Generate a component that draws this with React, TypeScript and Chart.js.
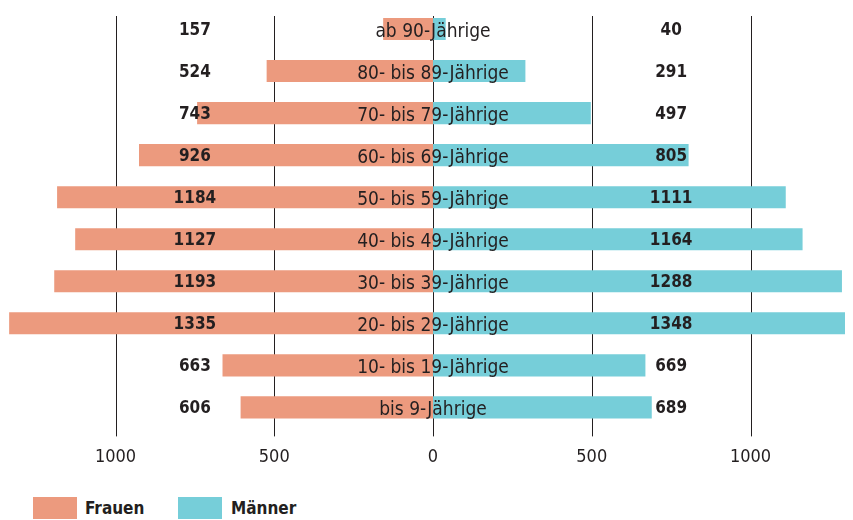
import React, { useEffect, useRef } from "react";
import { Chart, registerables } from "chart.js";

Chart.register(...registerables);

const CATEGORIES = [
  "ab 90-Jährige",
  "80- bis 89-Jährige",
  "70- bis 79-Jährige",
  "60- bis 69-Jährige",
  "50- bis 59-Jährige",
  "40- bis 49-Jährige",
  "30- bis 39-Jährige",
  "20- bis 29-Jährige",
  "10- bis 19-Jährige",
  "bis 9-Jährige",
];
const FRAUEN = [157, 524, 743, 926, 1184, 1127, 1193, 1335, 663, 606];
const MAENNER = [40, 291, 497, 805, 1111, 1164, 1288, 1348, 669, 689];
const TICKS = [-1000, -500, 0, 500, 1000];
const VALUE_LABEL_AT = 750;
const SERIES = ["Frauen", "Männer"];

const COLOR_F = "#EC9A7E";
const COLOR_M = "#76CED9";
const TEXT = "#231F20";
const NARROW = '"Liberation Sans Narrow", "DejaVu Sans Condensed", "Arial Narrow", sans-serif';

const overlay = {
  id: "pyramidOverlay",
  beforeDatasetsDraw(chart: any) {
    const { ctx, chartArea } = chart;
    const x = chart.scales.x;
    ctx.save();
    ctx.strokeStyle = TEXT;
    ctx.lineWidth = 1;
    for (const v of TICKS) {
      const px = Math.round(x.getPixelForValue(v)) + 0.5;
      ctx.beginPath();
      ctx.moveTo(px, chartArea.top + 8);
      ctx.lineTo(px, chartArea.bottom + 8);
      ctx.stroke();
    }
    ctx.restore();
  },
  afterDatasetsDraw(chart: any) {
    const { ctx } = chart;
    const x = chart.scales.x;
    const y = chart.scales.y;
    ctx.save();
    ctx.fillStyle = TEXT;
    ctx.textAlign = "center";
    ctx.textBaseline = "alphabetic";
    CATEGORIES.forEach((c, i) => {
      const py = y.getPixelForValue(i);
      ctx.font = `400 19px ${NARROW}`;
      ctx.fillText(c, x.getPixelForValue(0), py + 7.5);
      ctx.font = `700 17px ${NARROW}`;
      ctx.fillText(String(FRAUEN[i]), x.getPixelForValue(-VALUE_LABEL_AT), py + 5.5);
      ctx.fillText(String(MAENNER[i]), x.getPixelForValue(VALUE_LABEL_AT), py + 5.5);
    });
    ctx.restore();
  },
};

export default function App() {
  const ref = useRef<HTMLCanvasElement | null>(null);

  useEffect(() => {
    document.documentElement.style.overflow = "hidden";
    const canvas = ref.current;
    if (!canvas) return;
    const chart = new Chart(canvas, {
      type: "bar",
      data: {
        labels: CATEGORIES,
        datasets: [
          { label: SERIES[0], data: FRAUEN.map((v) => -v), backgroundColor: COLOR_F, borderWidth: 0 },
          { label: SERIES[1], data: MAENNER, backgroundColor: COLOR_M, borderWidth: 0 },
        ],
      },
      options: {
        indexAxis: "y",
        animation: false,
        responsive: true,
        maintainAspectRatio: false,
        layout: { padding: 0 },
        datasets: { bar: { barPercentage: 0.525, categoryPercentage: 1 } },
        plugins: { legend: { display: false }, tooltip: { enabled: false } },
        scales: {
          x: {
            min: -1338.6,
            max: 1322.8,
            stacked: true,
            grid: { display: false, drawTicks: false },
            border: { display: false },
            afterBuildTicks: (s: any) => {
              s.ticks = TICKS.map((v) => ({ value: v }));
            },
            ticks: {
              callback: (v: any) => String(Math.abs(Number(v))),
              color: TEXT,
              font: { family: NARROW, size: 18 },
              padding: 18,
              maxRotation: 0,
              autoSkip: false,
            },
          },
          y: { stacked: true, display: false },
        },
      },
      plugins: [overlay],
    } as any);
    return () => chart.destroy();
  }, []);

  const legendText: React.CSSProperties = {
    position: "absolute",
    top: 489,
    height: 22,
    lineHeight: "22px",
    fontFamily: NARROW,
    fontWeight: 700,
    fontSize: 17,
    color: TEXT,
    whiteSpace: "nowrap",
  };

  return (
    <div style={{ position: "relative", width: 845, height: 512 }}>
      <div style={{ position: "absolute", left: 0, top: 0, width: 845, height: 478 }}>
        <canvas ref={ref} />
      </div>
      <div style={{ position: "absolute", left: 25, top: 489, width: 44, height: 22, background: COLOR_F }} />
      <span style={{ ...legendText, left: 77 }}>{SERIES[0]}</span>
      <div style={{ position: "absolute", left: 170, top: 489, width: 44, height: 22, background: COLOR_M }} />
      <span style={{ ...legendText, left: 223 }}>{SERIES[1]}</span>
    </div>
  );
}
